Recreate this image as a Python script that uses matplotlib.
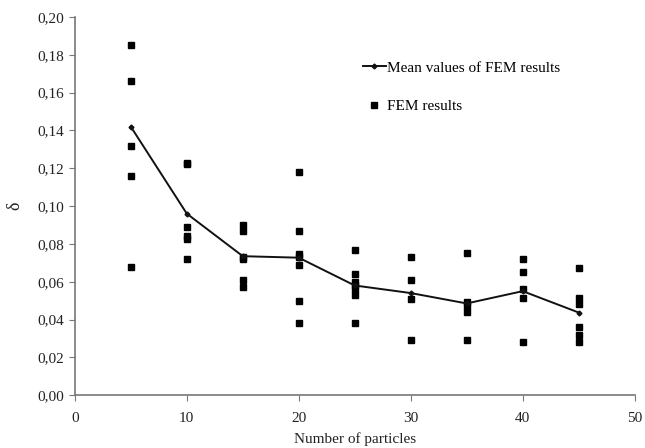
import matplotlib
matplotlib.use("Agg")
import matplotlib.pyplot as plt
from matplotlib.ticker import FuncFormatter

plt.rcParams['font.family'] = ['Liberation Serif', 'DejaVu Serif']

# FEM results (number of particles -> delta values)
fem_x = [5]*5 + [10]*6 + [15]*6 + [20]*7 + [25]*7 + [30]*4 + [35]*5 + [40]*5 + [45]*6
fem_y = [0.185, 0.166, 0.132, 0.116, 0.068,
         0.123, 0.122, 0.089, 0.084, 0.0825, 0.072,
         0.090, 0.087, 0.073, 0.072, 0.061, 0.057,
         0.118, 0.087, 0.0746, 0.073, 0.069, 0.050, 0.038,
         0.077, 0.064, 0.060, 0.058, 0.056, 0.053, 0.038,
         0.073, 0.061, 0.051, 0.029,
         0.075, 0.049, 0.047, 0.044, 0.029,
         0.072, 0.065, 0.056, 0.0515, 0.028,
         0.067, 0.0515, 0.048, 0.036, 0.032, 0.028]

# Mean values
mean_x = [5, 10, 15, 20, 25, 30, 35, 40, 45]
mean_y = [0.142, 0.096, 0.0735, 0.0727, 0.058, 0.054, 0.0485, 0.055, 0.0437]

fig = plt.figure(figsize=(6.45, 4.48), dpi=100)
ax = fig.add_axes([0.116, 0.118, 0.868, 0.844])

ax.plot(mean_x, mean_y, color='#111111', lw=1.4, marker='D', markersize=2.5,
        label='Mean values of FEM results', zorder=3)
ax.plot(fem_x, fem_y, ls='none', marker='s', markersize=5, color='black',
        label='FEM results', zorder=2)

ax.set_xlim(0, 50)
ax.set_ylim(0, 0.20)
ax.set_xticks(range(0, 51, 10))
ax.set_yticks([i * 0.02 for i in range(11)])
ax.yaxis.set_major_formatter(FuncFormatter(lambda v, p: f"{v:.2f}".replace('.', ',')))

for s in ['top', 'right']:
    ax.spines[s].set_visible(False)
for s in ['left', 'bottom']:
    ax.spines[s].set_color('#777777')
    ax.spines[s].set_linewidth(1.2)
ax.tick_params(axis='both', direction='out', length=4, color='#777777',
               labelsize=11, labelcolor='#222222')
ax.tick_params(axis='x', pad=8)

ax.set_xlabel('Number of particles', fontsize=11, color='#222222', labelpad=5)
ax.set_ylabel('δ', fontsize=13, color='#222222', labelpad=10)

leg = ax.legend(loc='upper left', bbox_to_anchor=(0.49, 0.92), frameon=False,
                fontsize=11, labelspacing=1.6, handlelength=1.5, handletextpad=0.1)

fig.savefig('out.png', dpi=100)
